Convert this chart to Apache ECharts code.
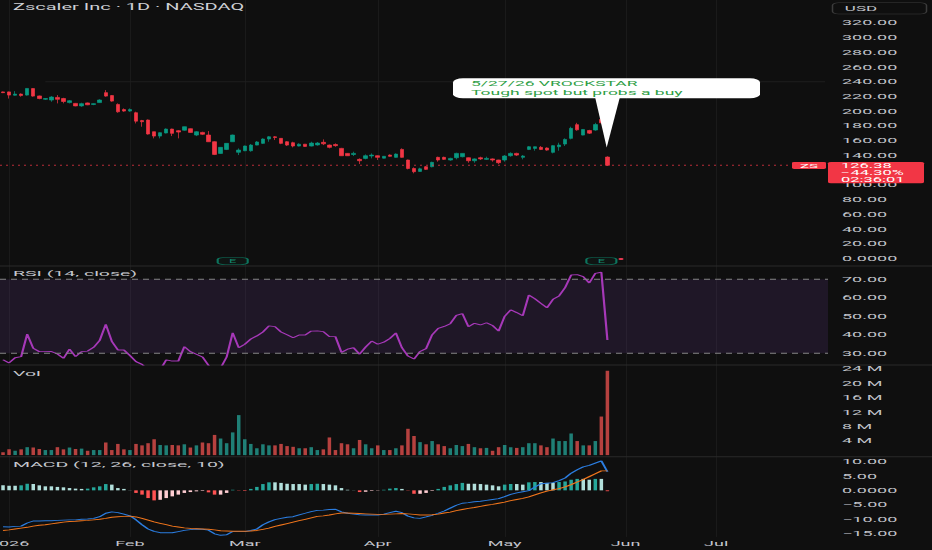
<!DOCTYPE html>
<html>
<head>
<meta charset="utf-8">
<script src="https://cdn.jsdelivr.net/npm/echarts@6.0.0/dist/echarts.min.js"></script>
<style>
html,body{margin:0;padding:0;background:#0f0f0f;overflow:hidden;width:932px;height:550px;}
#wrap{width:932px;height:550px;overflow:hidden;position:relative;background:#0f0f0f;}
#chart{width:932px;height:1340px;transform:scaleY(0.4104478);transform-origin:0 0;}
</style>
</head>
<body>
<div id="wrap"><div id="chart"></div></div>
<script>
// ---------------- DATA ----------------
const dates = [
'2025-12-31',
'2026-01-02','2026-01-05','2026-01-06','2026-01-07','2026-01-08','2026-01-09','2026-01-12','2026-01-13','2026-01-14','2026-01-15',
'2026-01-16','2026-01-20','2026-01-21','2026-01-22','2026-01-23','2026-01-26','2026-01-27','2026-01-28','2026-01-29','2026-01-30',
'2026-02-02','2026-02-03','2026-02-04','2026-02-05','2026-02-06','2026-02-09','2026-02-10','2026-02-11','2026-02-12','2026-02-13',
'2026-02-17','2026-02-18','2026-02-19','2026-02-20','2026-02-23','2026-02-24','2026-02-25','2026-02-26','2026-02-27',
'2026-03-02','2026-03-03','2026-03-04','2026-03-05','2026-03-06','2026-03-09','2026-03-10','2026-03-11','2026-03-12','2026-03-13',
'2026-03-16','2026-03-17','2026-03-18','2026-03-19','2026-03-20','2026-03-23','2026-03-24','2026-03-25','2026-03-26','2026-03-27',
'2026-03-30','2026-03-31',
'2026-04-01','2026-04-02','2026-04-06','2026-04-07','2026-04-08','2026-04-09','2026-04-10','2026-04-13','2026-04-14','2026-04-15',
'2026-04-16','2026-04-17','2026-04-20','2026-04-21','2026-04-22','2026-04-23','2026-04-24','2026-04-27','2026-04-28','2026-04-29',
'2026-04-30',
'2026-05-01','2026-05-04','2026-05-05','2026-05-06','2026-05-07','2026-05-08','2026-05-11','2026-05-12','2026-05-13','2026-05-14',
'2026-05-15','2026-05-18','2026-05-19','2026-05-20','2026-05-21','2026-05-22','2026-05-26','2026-05-27'
];
const futureSlots = 36;

// [open, close, low, high]
const candles = [
[226,225,224.4,226.5],[226,221.7,217,226.5],[221.5,223,221,227],[223,221,219.5,224],[221.7,230.7,221,231],
[230.5,220.3,219.5,231],[220.5,217,216,221],[216,217,215,217.5],[215,219,212.6,220.3],[218.5,216,210.4,221.7],
[217,213,210.5,218],[211.5,214,210.4,215],[210.4,207,206.5,211],[207,210,205.8,211.3],[211,208.5,208,211.5],
[209,210,208,210.5],[211.5,215,211,216],[225,220.3,219.4,228.5],[221,213.5,212.6,221.7],[209,199,197.7,210.4],
[202,200,199,203.6],[200,202,199,203.6],[197.7,186.3,183.2,199.1],[187,185.5,178.7,188],[187.8,168.8,168,188.5],
[171.9,166,162.9,172],[166,170.6,162.9,171],[170.2,175.5,169.7,176.4],[175.5,169.7,166,176],[173.3,171.5,162.9,174.2],
[174,178.7,173.3,179],[176,171,170.6,176.4],[167.4,171.9,166,172.8],[171,168.5,167.4,171.9],[167.4,158.3,158,172.8],
[158.3,141.1,140.2,159],[142.5,150.7,142,151],[147.9,156.1,147,156.5],[158.3,167.4,158,168],[144,147,140.2,149.3],
[146.1,152.5,145.5,153],[146.1,153.8,144.8,155.2],[153.8,158,153.5,159.2],[156.1,162,155.2,162.9],[162,165,158.3,166],
[165,164,160.6,166],[162.9,156.1,155,163],[158.3,153.8,152.5,159.2],[157,152.5,150.7,158.3],[152.5,155,152,156.1],
[155,152,151.5,155.2],[152.5,156.5,152,158.3],[154,156.5,153,158],[157.5,155.5,153.8,161.5],[153.8,150.7,149.3,154.5],
[154.5,153,151.5,156.1],[149.3,139.3,139,150],[142.5,139.3,139,143],[141,142.5,138.9,144.8],[134.4,132.5,128,135.7],
[135.7,139.3,134.4,141.1],[139,140.2,135.7,142.5],[139.3,137.1,133.5,139.8],[136,138.5,135.7,138.9],[140.2,138.5,138,141.1],
[137.1,141.5,136.6,142.5],[147.9,137.1,136.6,149.3],[133.5,122,120.8,134],[122,117.6,115.4,123.5],[118,121.5,117.6,123],
[124.4,120.8,119.9,125.3],[124.4,130.3,123.5,131.2],[137.1,133.5,131.2,138],[137.1,134.4,133.5,138],[133.5,135.7,132.5,136.6],
[136.6,142.5,134.4,143.4],[138,142.5,137.1,142.8],[136.6,132.5,129.8,137.1],[132.5,135,129.8,135.7],[136.6,135,133.5,138],
[134.4,135.7,133.5,138],[135,133.5,131.2,135.7],[133.5,129.8,128,133.8],[133.5,138.9,131.2,140.2],[139.3,142.5,138,143.9],
[142.5,140.2,138.9,143.4],[137.1,138.9,134.4,140.2],[147.9,151.5,147,152.5],[149.3,151.5,146.1,151.8],[150.7,147.9,147,152.5],
[149.8,147,146.1,150.7],[143.9,153,142.5,153.8],[151.5,153.8,146.1,157],[155.2,161.5,152.5,162.9],[162.9,176.5,161.5,178.7],
[181.5,174.5,173.3,184],[167.4,175,167,175.5],[173.5,170,168.8,174.5],[174.2,181.6,173.2,184],[188.5,184,182.3,191],
[137.5,126.38,125.5,138.5]
];

const volumeM = [
0.8,1.6,1.2,1.6,2.2,2.1,1.7,1.4,1.4,2.2,
1.6,2.1,1.7,1.8,1.2,1.4,1.4,3.5,1.4,3.1,
1.6,1.4,3.1,2.7,3.3,4.4,2.8,2.7,2.8,2.7,
3.0,2.1,2.7,3.5,3.3,5.6,4.6,3.3,6.3,11.1,
4.4,3.1,1.9,3.0,2.7,2.7,3.1,2.5,2.3,1.9,
1.9,2.2,1.4,1.6,4.9,1.4,3.3,3.0,1.9,4.2,
3.0,1.9,2.7,1.4,1.4,1.9,2.7,7.3,5.3,3.6,
3.0,3.9,3.0,2.5,1.9,2.8,2.5,3.1,2.2,1.9,
2.0,1.2,2.2,2.8,2.2,2.0,2.2,3.3,3.3,2.7,
2.2,4.6,3.9,3.9,6.0,3.9,2.7,2.7,3.9,10.7,
23.4
];

const rsi = [
26.5,24.8,27.6,28.2,40.4,32.7,30.9,30.9,31.0,29.6,
27.3,32.2,28.2,30.9,31.2,33.2,37.0,45.7,36.5,31.8,
31.8,28.8,25.5,24.0,21.0,19.0,21.0,26.4,25.8,25.8,
33.6,30.9,29.5,28.0,23.5,18.0,22.0,28.0,41.1,33.0,
34.9,37.7,39.4,41.5,44.8,44.4,41.5,40.0,38.4,39.9,
39.9,42.0,42.1,41.7,39.0,39.0,30.5,32.2,33.0,29.5,
33.4,36.6,34.9,36.0,38.0,41.0,33.0,28.5,26.9,31.0,
32.5,40.0,43.5,44.5,46.0,50.5,51.5,44.4,46.2,45.3,
46.5,45.0,42.0,50.0,53.5,52.0,50.3,61.5,59.5,57.0,
54.6,59.2,61.0,65.5,72.3,72.5,71.4,68.0,73.2,73.8,
37.2
];

const macdLine = [
-12.7,-12.8,-12.6,-12.5,-11.4,-10.7,-10.7,-10.6,-10.6,-10.5,
-10.4,-10.3,-10.3,-10.1,-10.0,-9.8,-9.2,-8.0,-7.5,-7.8,
-8.3,-8.9,-10.3,-12.0,-13.5,-14.3,-14.8,-14.8,-14.8,-14.4,
-14.0,-13.7,-13.5,-13.6,-13.9,-15.2,-15.7,-15.5,-14.4,-14.4,
-14.4,-14.0,-13.5,-12.0,-11.0,-10.2,-9.8,-9.4,-9.2,-8.6,
-8.0,-7.4,-7.0,-6.9,-6.7,-6.6,-7.5,-8.0,-8.3,-8.5,
-8.6,-8.6,-8.6,-8.3,-7.8,-7.3,-7.8,-9.0,-9.6,-9.8,
-9.3,-8.7,-8.0,-7.2,-6.2,-5.2,-4.5,-4.3,-4.0,-3.8,
-3.5,-3.2,-2.9,-2.2,-1.4,-0.9,-0.5,-0.1,1.2,2.3,
2.5,2.7,3.4,4.3,6.0,7.2,8.2,8.7,9.5,10.3,
6.5
];

const signalLine = [
-14.0,-13.8,-13.5,-13.2,-12.9,-12.5,-12.2,-12.0,-11.7,-11.4,
-11.1,-10.9,-10.8,-10.6,-10.5,-10.3,-10.1,-9.8,-9.4,-9.2,
-9.1,-9.0,-9.3,-9.8,-10.4,-11.0,-11.5,-12.0,-12.5,-12.8,
-13.1,-13.3,-13.4,-13.5,-13.6,-13.8,-14.1,-14.2,-14.3,-14.3,
-14.3,-14.2,-14.0,-13.6,-13.2,-12.6,-12.1,-11.6,-11.1,-10.6,
-10.1,-9.6,-9.1,-8.9,-8.6,-8.2,-7.9,-7.9,-8.0,-8.1,
-8.2,-8.3,-8.4,-8.4,-8.3,-8.2,-8.1,-8.2,-8.4,-8.6,
-8.6,-8.5,-8.3,-7.9,-7.6,-7.1,-6.7,-6.3,-6.0,-5.6,
-5.2,-4.9,-4.5,-4.1,-3.6,-3.2,-2.8,-2.3,-1.6,-0.9,
-0.3,0.2,0.6,1.2,2.0,2.9,3.8,4.8,5.8,6.8,
6.8
];

const macdHist = [
1.75,1.6,1.6,1.75,2.3,2.2,1.75,1.4,1.4,1.2,
1.05,0.8,0.6,0.5,0.6,1.05,1.4,2.2,2.0,0.8,
0.5,0.05,-0.9,-1.5,-2.7,-3.5,-3.3,-2.7,-2.1,-1.5,
-0.9,-0.6,-0.35,-0.2,-0.7,-1.5,-1.5,-0.9,0.2,-0.1,
-0.2,0.5,1.2,2.2,2.8,2.8,2.6,2.3,2.2,2.2,
2.0,2.2,2.3,2.2,2.0,1.75,0.8,0.2,0.05,-0.6,
-0.5,-0.2,-0.1,0.2,0.6,0.8,0.5,-0.1,-1.2,-1.2,
-0.9,-0.2,0.5,1.2,1.75,2.2,2.6,2.3,2.3,2.2,
2.0,1.75,1.4,2.0,2.2,2.2,2.0,2.8,2.9,2.9,
2.6,2.6,2.9,3.1,3.7,4.0,4.0,3.7,4.0,4.0,
-0.3
];

const tickIndex = [1, 21, 40, 62, 83, 103, 118];
const tickText = ['2026', 'Feb', 'Mar', 'Apr', 'May', 'Jun', 'Jul'];
// 120.00 sits under the last-price box in the reference, so it is not listed
const priceTicks = [0,20,40,60,80,100,140,160,180,200,220,240,260,280,300,320];
const rsiTicks = [30, 40, 50, 60, 70];
const volTicks = [4e6, 8e6, 12e6, 16e6, 20e6, 24e6];
const macdTicks = [-15, -10, -5, 0, 5, 10];
const earningsIndex = [38, 99];
const lastPrice = 126.38;
const rayLevel = 240;
const rayStartIndex = 7;
const symbolName = 'ZS';
const priceBoxLines = ['126.38', '\u221244.30%', '02:36:01'];
const noteLines = ['5/27/26 VROCKSTAR', 'Tough spot but probs a buy'];

// ---------------- STYLE / LAYOUT ----------------
const S = 550 / 1340;            // vertical squeeze of the whole page
const FF = "Roboto, 'Noto Sans', 'DejaVu Sans', sans-serif";
const BG = '#0f0f0f';
const UP = '#089981', DOWN = '#F23645';
const AX = '#c3c5cc';
const categories = dates.concat(Array.from({length: futureSlots}, (_, k) => 'future-' + (k + 1)));

const grids = [
  {top: 55.30, height: 574.01},
  {top: 648.07, height: 241.20},
  {top: 889.27, height: 219.53},
  {top: 1112.68, height: 195.63}
];

const fmt2 = v => v === 0 ? '0.0000' : (v < 0 ? '\u2212' + Math.abs(v).toFixed(2) : v.toFixed(2));

function yAx(i, min, max, ticks, formatter, extra) {
  return Object.assign({
    type: 'value', gridIndex: i, position: 'right', min, max, scale: false,
    axisLine: {show: false}, axisTick: {show: false}, splitLine: {show: false},
    axisLabel: {customValues: ticks, formatter, color: AX, fontSize: 18, fontFamily: FF, margin: 14}
  }, extra || {});
}

const option = {
  backgroundColor: BG,
  animation: false,
  textStyle: {fontFamily: FF},
  grid: grids.map(g => ({left: 0, right: 104, top: g.top, height: g.height, containLabel: false, outerBoundsMode: 'none'})),
  xAxis: grids.map((g, i) => ({
    type: 'category', gridIndex: i, data: categories, boundaryGap: true,
    axisLine: {show: false}, axisTick: {show: false}, splitLine: {show: false},
    axisLabel: i === 3 ? {
      show: true, color: AX, fontSize: 18, fontFamily: FF, margin: 7,
      interval: (idx) => tickIndex.indexOf(idx) >= 0,
      formatter: (val, idx) => { const k = tickIndex.indexOf(idx); return k >= 0 ? tickText[k] : ''; }
    } : {show: false}
  })),
  yAxis: [
    yAx(0, 0, 320, priceTicks, fmt2, {interval: 20}),
    yAx(1, 23.67, 77.19, rsiTicks, v => v.toFixed(2)),
    yAx(2, 0, 25e6, volTicks, v => (v / 1e6) + ' M'),
    yAx(3, -16.29, 11.75, macdTicks, fmt2)
  ],
  series: [
    {
      type: 'candlestick', xAxisIndex: 0, yAxisIndex: 0, barWidth: 4,
      data: candles,
      itemStyle: {color: UP, color0: DOWN, borderColor: UP, borderColor0: DOWN, borderWidth: 1},
      markLine: {
        silent: true, symbol: ['none', 'none'], label: {show: false},
        data: [
          {yAxis: lastPrice, lineStyle: {color: 'rgba(242,54,69,0.75)', type: [2, 4], width: 2.6}},
          [{coord: [rayStartIndex, rayLevel], lineStyle: {color: '#1f1f1f', type: 'solid', width: 2.4}},
           {coord: [categories.length - 1, rayLevel]}]
        ]
      }
    },
    {
      type: 'scatter', xAxisIndex: 0, yAxisIndex: 0, clip: false, z: 6, silent: true,
      symbol: 'roundRect', symbolSize: [30, 17],
      data: earningsIndex.map(i => [i, -3.7]),
      itemStyle: {color: '#0f1614', borderColor: '#0c8f72', borderWidth: 1.6},
      label: {show: true, position: 'inside', formatter: 'E', color: '#14a585', fontSize: 13, fontFamily: FF}
    },
    {
      type: 'line', xAxisIndex: 1, yAxisIndex: 1, data: rsi, symbol: 'none', clip: true,
      lineStyle: {color: '#a638b8', width: 2.2},
      markArea: {silent: true, itemStyle: {color: 'rgba(150,80,210,0.12)'}, data: [[{yAxis: 30}, {yAxis: 70}]]},
      markLine: {
        silent: true, symbol: ['none', 'none'], label: {show: false},
        lineStyle: {color: '#858585', type: [6, 5], width: 2.6},
        data: [{yAxis: 70}, {yAxis: 30}]
      }
    },
    {
      type: 'bar', xAxisIndex: 2, yAxisIndex: 2, barWidth: 3.5,
      data: volumeM.map((v, i) => ({
        value: v * 1e6,
        itemStyle: {color: candles[i][1] >= candles[i][0] ? 'rgba(38,166,154,0.75)' : 'rgba(239,83,80,0.75)'}
      }))
    },
    {
      type: 'bar', xAxisIndex: 3, yAxisIndex: 3, barWidth: 3.5,
      data: macdHist.map((h, i) => {
        const p = i > 0 ? macdHist[i - 1] : h;
        let c;
        if (h >= 0) c = h > p ? '#26A69A' : '#B2DFDB';
        else c = h < p ? '#FF5252' : '#FFCDD2';
        return {value: h, itemStyle: {color: c}};
      })
    },
    {type: 'line', xAxisIndex: 3, yAxisIndex: 3, data: macdLine, symbol: 'none', lineStyle: {color: '#2b7de0', width: 2.2}, z: 4},
    {type: 'line', xAxisIndex: 3, yAxisIndex: 3, data: signalLine, symbol: 'none', lineStyle: {color: '#f2761c', width: 2.2}, z: 4}
  ]
};

const chart = echarts.init(document.getElementById('chart'), null, {renderer: 'svg', width: 932, height: 1340});
chart.setOption(option);

// ---------------- OVERLAYS ----------------
function txt(x, y, text, size, fill, align, z, lh) {
  const st = {text, fill, fontSize: size, fontFamily: FF,
      textAlign: align || 'left', textVerticalAlign: 'middle', align: align || 'left', verticalAlign: 'middle'};
  if (lh) st.lineHeight = lh;
  return {type: 'text', x, y, z: z || 50, silent: true, style: st};
}
const gr = [];
const xPix = i => chart.convertToPixel({xAxisIndex: 0}, i);
const yPrice = v => chart.convertToPixel({yAxisIndex: 0}, v);

// month grid lines
tickIndex.forEach(i => {
  const x = Math.round(xPix(i)) + 0.5;
  gr.push({type: 'line', z: 0, silent: true, shape: {x1: x, y1: 0, x2: x, y2: 1308.3}, style: {stroke: '#1f1f1f', lineWidth: 1}});
});
// pane separators
[648.07, 889.27, 1112.68].forEach(y => {
  gr.push({type: 'line', z: 1, silent: true, shape: {x1: 0, y1: y, x2: 932, y2: y}, style: {stroke: '#2a2a2a', lineWidth: 2.4}});
});
// legends
gr.push(txt(13, 18.8, 'Zscaler Inc \u00b7 1D \u00b7 NASDAQ', 20, '#cfd1d6'));
gr.push(txt(13, 667.1, 'RSI (14, close)', 19.5, '#c6c8ce'));
gr.push(txt(13, 909.5, 'Vol', 19.5, '#c6c8ce'));
gr.push(txt(13, 1131.7, 'MACD (12, 26, close, 10)', 19.5, '#c6c8ce'));
// currency button
gr.push({type: 'rect', z: 40, silent: true, shape: {x: 832.5, y: 6.6, width: 94, height: 27.5, r: 6},
  style: {fill: BG, stroke: '#3c3c3c', lineWidth: 1.5}});
gr.push(txt(861, 20.3, 'USD', 17, '#c3c5cc', 'center', 41));
// last price labels
const yl = yPrice(lastPrice);
gr.push({type: 'rect', z: 40, silent: true, shape: {x: 792, y: yl - 8, width: 34, height: 17, r: 2}, style: {fill: DOWN}});
gr.push(txt(809, yl + 0.5, symbolName, 15, '#ffffff', 'center', 41, 15));
gr.push({type: 'rect', z: 40, silent: true, shape: {x: 828, y: yl - 8, width: 96, height: 52, r: 3}, style: {fill: DOWN}});
priceBoxLines.forEach((t, k) => gr.push(txt(841, yl + 1 + k * 17.5, t, 16.5, '#ffffff', 'left', 41, 17)));
// callout bubble
const tipX = xPix(candles.length - 1) - 0.7, tipY = yPrice(150.5);
gr.push({type: 'polygon', z: 60, silent: true, shape: {points: [[595, 236], [620, 236], [tipX, tipY]]}, style: {fill: '#ffffff'}});
gr.push({type: 'rect', z: 60, silent: true, shape: {x: 453, y: 190.8, width: 307, height: 48.7, r: 10}, style: {fill: '#ffffff'}});
gr.push(txt(471, 204.2, noteLines[0], 17.5, '#2e9e45', 'left', 61, 20));
gr.push(txt(471, 224.6, noteLines[1], 17.5, '#2e9e45', 'left', 61, 20));
// small marker next to the second earnings badge
gr.push({type: 'circle', z: 7, silent: true, shape: {cx: 621, cy: 631, r: 2.6}, style: {fill: '#e53950'}});

chart.setOption({graphic: {elements: gr}});
</script>
</body>
</html>
